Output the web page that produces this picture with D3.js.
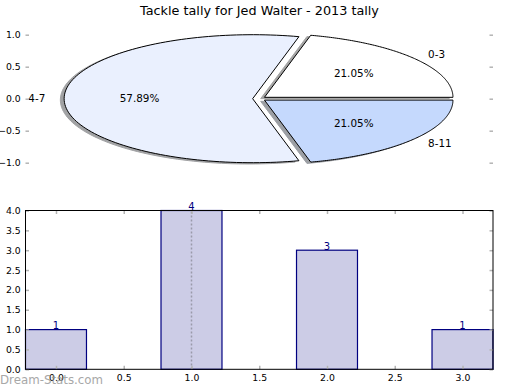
<!DOCTYPE html>
<html><head><meta charset="utf-8">
<script src="https://cdn.jsdelivr.net/npm/d3@7"></script>
<style>body{margin:0;background:#fff} text{font-family:"DejaVu Sans",sans-serif}</style>
</head><body><svg id="c" width="520" height="390"></svg>
<script>
const title = "Tackle tally for Jed Walter - 2013 tally";
const pieLabels = ["0-3", "4-7", "8-11"];
const pieValues = [4, 11, 4];
const pieColors = ["#ffffff", "#eaf0fe", "#c5d9fd"];
const pieYTicks = [1.0, 0.5, 0.0, -0.5, -1.0];
const pieYTickLabels = ["1.0", "0.5", "0.0", "\u22120.5", "\u22121.0"];
const barCats = [0, 1, 2, 3];
const barValues = [1, 4, 3, 1];
const barXTicks = [0, 0.5, 1, 1.5, 2, 2.5, 3];
const barXTickLabels = ["0.0", "0.5", "1.0", "1.5", "2.0", "2.5", "3.0"];
const barYTicks = [0, 0.5, 1, 1.5, 2, 2.5, 3, 3.5, 4];
const barYTickLabels = ["0.0", "0.5", "1.0", "1.5", "2.0", "2.5", "3.0", "3.5", "4.0"];
const markerLine = 1;
const watermark = "Dream-Stats.com";

const svg = d3.select("#c");
const L = 25.5, R = 493;
const tickCol = "#b4b4b4";

// title
svg.append("text").attr("x", 259.5).attr("y", 14.5).attr("text-anchor", "middle")
  .attr("font-size", 12.8).attr("fill", "#000").text(title);

// ---------- PIE ----------
const explode = 0.035;
const px = d3.scaleLinear().domain([-1.24, 1.24]).range([L, R]);
const py = d3.scaleLinear().domain([-1.25, 1.25]).range([178.7, 18.7]);
const total = d3.sum(pieValues);
const slices = [];
let acc = 0;
pieValues.forEach((v, i) => {
  const t1 = acc / total * 2 * Math.PI;
  acc += v;
  const t2 = acc / total * 2 * Math.PI;
  const mid = (t1 + t2) / 2;
  slices.push({i, v, t1, t2, mid, cx: explode * Math.cos(mid), cy: explode * Math.sin(mid)});
});
function slicePath(s, dx, dy) {
  const pts = [[s.cx + dx, s.cy + dy]];
  const n = 120;
  for (let k = 0; k <= n; k++) {
    const t = s.t1 + (s.t2 - s.t1) * k / n;
    pts.push([s.cx + dx + Math.cos(t), s.cy + dy + Math.sin(t)]);
  }
  return "M" + pts.map(p => px(p[0]).toFixed(2) + "," + py(p[1]).toFixed(2)).join("L") + "Z";
}
const gPie = svg.append("g");
slices.forEach(s => {
  const c = d3.rgb(pieColors[s.i]);
  const sc = d3.rgb(c.r * 0.3, c.g * 0.3, c.b * 0.3);
  gPie.append("path").attr("d", slicePath(s, -0.02, -0.02))
    .attr("fill", sc).attr("stroke", sc).attr("stroke-width", 1).attr("opacity", 0.5);
});
slices.forEach(s => {
  gPie.append("path").attr("d", slicePath(s, 0, 0))
    .attr("fill", pieColors[s.i]).attr("stroke", "#000").attr("stroke-width", 1)
    .attr("stroke-linejoin", "miter");
});
slices.forEach(s => {
  const lx = s.cx + 1.1 * Math.cos(s.mid), ly = s.cy + 1.1 * Math.sin(s.mid);
  gPie.append("text").attr("x", px(lx)).attr("y", py(ly)).attr("dy", "0.36em")
    .attr("text-anchor", lx > 0 ? "start" : "end").attr("font-size", 10.4).text(pieLabels[s.i]);
  const qx = s.cx + 0.6 * Math.cos(s.mid), qy = s.cy + 0.6 * Math.sin(s.mid);
  gPie.append("text").attr("x", px(qx)).attr("y", py(qy)).attr("dy", "0.36em")
    .attr("text-anchor", "middle").attr("font-size", 10.4)
    .text((s.v / total * 100).toFixed(2) + "%");
});
// pie y ticks
const pieLeft = svg.append("g").attr("transform", `translate(${L},0)`)
  .call(d3.axisLeft(py).tickValues(pieYTicks).tickFormat((d, i) => pieYTickLabels[i]).tickSize(-3.5).tickPadding(4.8));
const pieRight = svg.append("g").attr("transform", `translate(${R},0)`)
  .call(d3.axisRight(py).tickValues(pieYTicks).tickFormat("").tickSize(-3.5));
[pieLeft, pieRight].forEach(g => {
  g.select(".domain").remove();
  g.selectAll(".tick line").attr("stroke", tickCol).attr("stroke-width", 1.5);
  g.selectAll("text").attr("font-size", 9.3).attr("fill", "#000").attr("font-family", "DejaVu Sans");
});

// ---------- BARS ----------
const T = 210.5, B = 369.3;
const bx = d3.scaleLinear().domain([-0.225, 3.225]).range([L, R]);
const by = d3.scaleLinear().domain([0, 4]).range([B, T]);
const bw = 0.45;
const gBar = svg.append("g");
gBar.selectAll("rect.bar").data(barCats).enter().append("rect")
  .attr("x", d => bx(d - bw / 2)).attr("width", d => bx(d + bw / 2) - bx(d - bw / 2))
  .attr("y", (d, i) => by(barValues[i])).attr("height", (d, i) => B - by(barValues[i]))
  .attr("fill", "rgba(0,0,128,0.2)").attr("stroke", "#000080").attr("stroke-width", 1.2);
gBar.append("line").attr("x1", bx(markerLine)).attr("x2", bx(markerLine))
  .attr("y1", T + 1).attr("y2", B).attr("stroke", "#9a9aaa").attr("stroke-width", 1.5)
  .attr("stroke-dasharray", "2,2");
gBar.selectAll("text.val").data(barCats).enter().append("text")
  .attr("x", d => bx(d)).attr("y", (d, i) => by(barValues[i]) - 0.5)
  .attr("text-anchor", "middle").attr("font-size", 10).attr("fill", "#000080")
  .text((d, i) => barValues[i]);

const axB = svg.append("g").attr("transform", `translate(0,${B})`)
  .call(d3.axisBottom(bx).tickValues(barXTicks).tickFormat((d, i) => barXTickLabels[i]).tickSize(-3.5).tickPadding(5));
const axT = svg.append("g").attr("transform", `translate(0,${T})`)
  .call(d3.axisTop(bx).tickValues(barXTicks).tickFormat("").tickSize(-3.5));
const axL = svg.append("g").attr("transform", `translate(${L},0)`)
  .call(d3.axisLeft(by).tickValues(barYTicks).tickFormat((d, i) => barYTickLabels[i]).tickSize(-3.5).tickPadding(4.8));
const axR = svg.append("g").attr("transform", `translate(${R},0)`)
  .call(d3.axisRight(by).tickValues(barYTicks).tickFormat("").tickSize(-3.5));
[axB, axT, axL, axR].forEach(g => {
  g.select(".domain").remove();
  g.selectAll(".tick line").attr("stroke", tickCol).attr("stroke-width", 1.5);
  g.selectAll("text").attr("font-size", 9.3).attr("fill", "#000").attr("font-family", "DejaVu Sans");
});
svg.append("rect").attr("x", L).attr("y", T).attr("width", R - L).attr("height", B - T)
  .attr("fill", "none").attr("stroke", "#000").attr("stroke-width", 1);

// watermark
svg.append("text").attr("x", 0).attr("y", 384).attr("font-size", 11.8)
  .attr("fill", "#999999").attr("opacity", 0.85).text(watermark);
</script></body></html>
